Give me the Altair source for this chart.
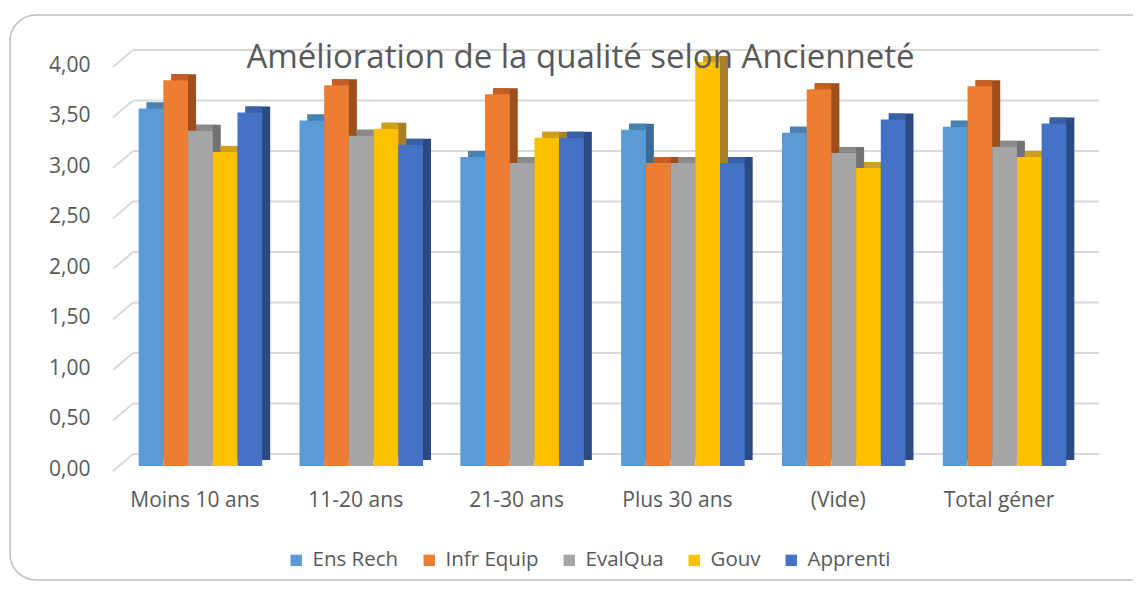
import json
import altair as alt
import pandas as pd

categories = ["Moins 10 ans", "11-20 ans", "21-30 ans", "Plus 30 ans", "(Vide)", "Total géner"]
series = ["Ens Rech", "Infr Equip", "EvalQua", "Gouv", "Apprenti"]
ens_rech = [3.54, 3.42, 3.06, 3.33, 3.30, 3.36]
infr_equip = [3.82, 3.77, 3.68, 3.00, 3.73, 3.76]
evalqua = [3.32, 3.27, 3.00, 3.00, 3.10, 3.16]
gouv = [3.11, 3.34, 3.25, 4.00, 2.95, 3.06]
apprenti = [3.50, 3.18, 3.25, 3.00, 3.43, 3.39]
y_ticks = [0, 0.5, 1, 1.5, 2, 2.5, 3, 3.5, 4]

front_colors = ["#5B9BD5", "#ED7D31", "#A5A5A5", "#FFC000", "#4472C4"]
top_colors = ["#4A81B3", "#C55E22", "#8A8A8A", "#CFA01E", "#3A60A6"]
side_colors = ["#3C6B97", "#9E4F1C", "#727272", "#A8802A", "#2A4A84"]

rows = []
for s, vals in zip(series, [ens_rech, infr_equip, evalqua, gouv, apprenti]):
    for c, v in zip(categories, vals):
        rows.append({"cat": c, "series": s, "value": v})
df = pd.DataFrame(rows)
grid_df = pd.DataFrame({"v": y_ticks})

FONT = "Open Sans"
TXT = "#595959"
BW = 0.1536  # bar width as a fraction of the category step

cats_js = json.dumps(categories)
series_js = json.dumps(series)

y_axis = alt.Axis(values=y_ticks, grid=False, ticks=False, domain=False,
                  labelExpr="replace(format(datum.value, '.2f'), '.', ',')",
                  labelFontSize=21, labelColor=TXT, labelFont=FONT,
                  labelPadding=24, labelOffset=3, title=None)
y_scale = alt.Scale(domain=[0, 4], nice=False)
x_scale = alt.Scale(domain=[-0.5, len(categories) - 0.5], nice=False, zero=False)
x_axis = alt.Axis(values=list(range(len(categories))), ticks=False, domain=False, grid=False,
                  labelExpr=f"{cats_js}[datum.value]", labelAngle=0,
                  labelFontSize=21, labelColor=TXT, labelFont=FONT,
                  labelPadding=23, title=None)

base = alt.Chart(df).transform_calculate(
    gi=f"indexof({cats_js}, datum.cat)",
    si=f"indexof({series_js}, datum.series)",
).transform_calculate(
    x0=f"datum.gi + (datum.si - 2.5) * {BW}",
    x1=f"datum.gi + (datum.si - 1.5) * {BW}",
)

x_enc = alt.X("x0:Q", scale=x_scale, axis=x_axis)
x2_enc = alt.X2("x1:Q")
y_enc = alt.Y("value:Q", scale=y_scale, axis=y_axis)

grid = alt.Chart(grid_df).mark_rule(color="#D9D9D9", strokeWidth=2, yOffset=-12).encode(
    x=alt.value(19), x2=alt.value(985),
    y=alt.Y("v:Q", scale=y_scale, axis=y_axis)
)
slants = alt.Chart(grid_df).mark_rule(color="#D9D9D9", strokeWidth=2, yOffset=5, y2Offset=-12).encode(
    x=alt.value(-1), x2=alt.value(19),
    y=alt.Y("v:Q", scale=y_scale, axis=y_axis), y2="v:Q"
)

side = base.mark_bar(xOffset=14, x2Offset=14, yOffset=-6, y2Offset=-6).encode(
    x=x_enc, x2=x2_enc, y=y_enc, y2=alt.datum(0),
    color=alt.Color("series:N", sort=series,
                    scale=alt.Scale(domain=series, range=side_colors), legend=None)
)
top = base.mark_bar(xOffset=14, x2Offset=6, yOffset=-6).encode(
    x=x_enc, x2=x2_enc, y=y_enc, y2="value:Q",
    fill=alt.Fill("series:N", sort=series,
                  scale=alt.Scale(domain=series, range=top_colors), legend=None)
)
front = base.mark_bar(xOffset=6, x2Offset=6).encode(
    x=x_enc, x2=x2_enc, y=y_enc, y2=alt.datum(0),
    color=alt.Color("series:N", sort=series,
                    scale=alt.Scale(domain=series, range=front_colors),
                    legend=alt.Legend(orient="none", legendX=172, legendY=488,
                                      direction="horizontal", title=None,
                                      symbolType="square", symbolSize=130,
                                      symbolStrokeWidth=0,
                                      labelFontSize=20.5, labelColor=TXT, labelFont=FONT,
                                      labelOffset=6, columnPadding=20)),
)

border = alt.Chart(alt.Data(values=[{}])).mark_rect(
    fill="transparent", stroke="#BFBFBF", strokeWidth=1.5, cornerRadius=26
).encode(x=alt.value(-104), x2=alt.value(1100), y=alt.value(-47), y2=alt.value(518))

chart = alt.layer(border, grid, slants, side, top, front).resolve_scale(
    color="independent", fill="independent"
).properties(
    width=965, height=404,
    title=alt.TitleParams("Amélioration de la qualité selon Ancienneté", fontSize=33,
                          font=FONT, color=TXT, fontWeight="normal", anchor="middle",
                          frame="group", dy=65, dx=-16),
    autosize=alt.AutoSizeParams(type="none"),
    padding={"left": 106, "top": 54, "right": 54, "bottom": 117},
).configure_view(stroke=None)

chart.save("out.html", embed_options={"renderer": "svg", "actions": False})
